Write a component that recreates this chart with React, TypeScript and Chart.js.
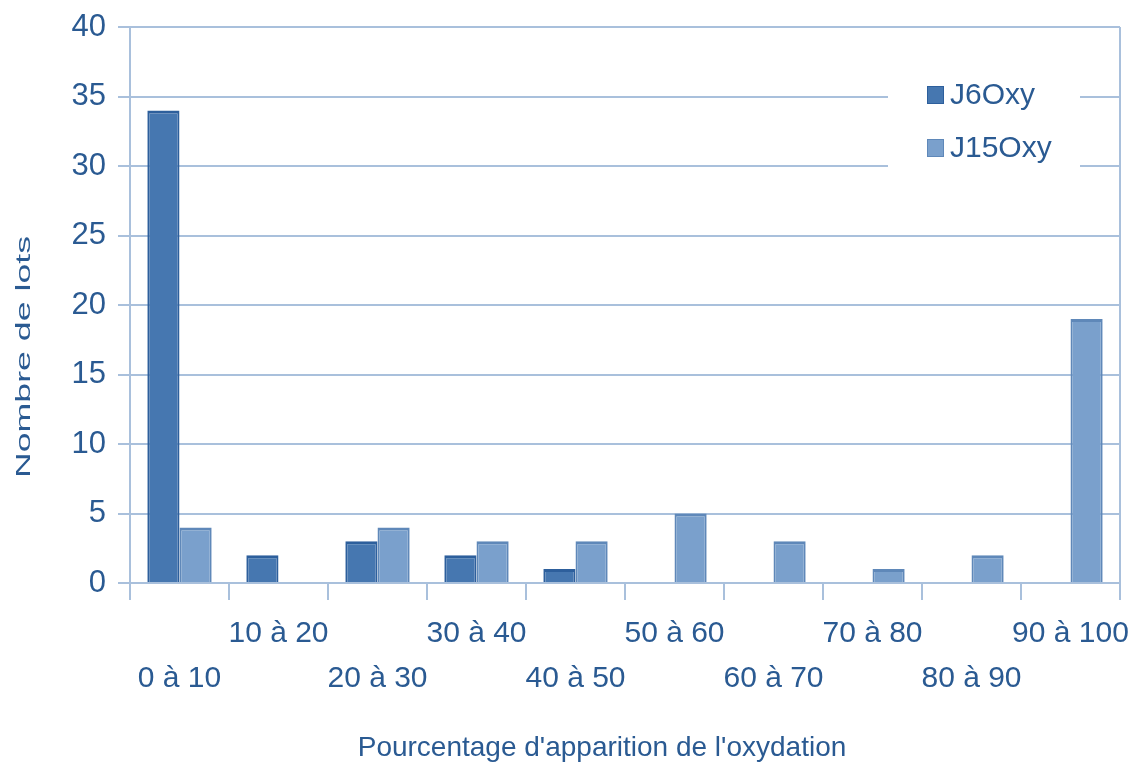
import React, { useEffect, useRef } from "react";
import { Chart, registerables } from "chart.js";

Chart.register(...registerables);

const categories = ["0 à 10", "10 à 20", "20 à 30", "30 à 40", "40 à 50", "50 à 60", "60 à 70", "70 à 80", "80 à 90", "90 à 100"];
const j6Oxy = [34, 2, 3, 2, 1, 0, 0, 0, 0, 0];
const j15Oxy = [4, 0, 4, 3, 3, 5, 3, 1, 2, 19];
const seriesNames = ["J6Oxy", "J15Oxy"];
const yTicks = [0, 5, 10, 15, 20, 25, 30, 35, 40];
const xTitle = "Pourcentage d'apparition de l'oxydation";
const yTitle = "Nombre de lots";

const TEXT = "#2a5a92";
const GRID = "#a9c0dc";
const C1 = "#4677b0";
const C1B = "#2d5f9c";
const C2 = "#7aa0cc";
const C2B = "#5f88b9";
const FONT = "'Liberation Sans', Arial, sans-serif";

export default function App() {
  const ref = useRef<HTMLCanvasElement | null>(null);
  useEffect(() => {
    if (!ref.current) return;
    const overlayPlugin = {
      id: "overlay",
      afterDraw(chart: any) {
        const ctx = chart.ctx;
        const a = chart.chartArea;
        ctx.save();
        // legend
        ctx.fillStyle = "#ffffff";
        ctx.fillRect(888, 66, 192, 118);
        const items = [
          { name: seriesNames[0], fill: C1, border: C1B, y: 95 },
          { name: seriesNames[1], fill: C2, border: C2B, y: 148 },
        ];
        ctx.font = `30px ${FONT}`;
        ctx.textBaseline = "middle";
        ctx.textAlign = "left";
        for (const it of items) {
          ctx.fillStyle = it.fill;
          ctx.fillRect(927, it.y - 9, 17, 18);
          ctx.strokeStyle = it.border;
          ctx.lineWidth = 1;
          ctx.strokeRect(927.5, it.y - 8.5, 16, 17);
          ctx.fillStyle = TEXT;
          ctx.fillText(it.name, 950, it.y + 1);
        }
        // right border line
        ctx.strokeStyle = GRID;
        ctx.lineWidth = 2;
        ctx.beginPath();
        ctx.moveTo(a.right, a.top);
        ctx.lineTo(a.right, a.bottom + 17);
        ctx.stroke();
        // x title
        ctx.fillStyle = TEXT;
        ctx.textAlign = "center";
        ctx.textBaseline = "middle";
        ctx.font = `28px ${FONT}`;
        ctx.fillText(xTitle, 602, 748);
        // y title (stretched along its length like the reference)
        ctx.translate(24, 357);
        ctx.rotate(-Math.PI / 2);
        ctx.scale(1.7, 1);
        ctx.font = `21px ${FONT}`;
        ctx.fillText(yTitle, 0, 0);
        ctx.restore();
      },
    };
    const chart = new Chart(ref.current, {
      type: "bar",
      data: {
        labels: categories,
        datasets: [
          {
            label: seriesNames[0],
            data: j6Oxy,
            backgroundColor: C1,
            borderColor: C1B,
            borderWidth: { top: 3, left: 2, right: 2, bottom: 0 },
            borderSkipped: "bottom",
          },
          {
            label: seriesNames[1],
            data: j15Oxy,
            backgroundColor: C2,
            borderColor: C2B,
            borderWidth: { top: 3, left: 2, right: 2, bottom: 0 },
            borderSkipped: "bottom",
          },
        ],
      },
      options: {
        animation: false,
        responsive: false,
        maintainAspectRatio: false,
        layout: { padding: { top: 27, right: 12, left: 0, bottom: 0 } },
        datasets: { bar: { categoryPercentage: 0.65, barPercentage: 1.0 } },
        plugins: { legend: { display: false }, tooltip: { enabled: false } },
        scales: {
          x: {
            offset: true,
            grid: {
              offset: true,
              drawOnChartArea: false,
              drawTicks: true,
              tickLength: 17,
              color: GRID,
              lineWidth: 2,
            },
            border: { display: true, color: GRID, width: 2 },
            ticks: {
              color: TEXT,
              font: { family: FONT, size: 30, lineHeight: 1.5 },
              padding: 11,
              maxRotation: 0,
              autoSkip: false,
              callback: (_v: any, i: number) => (i % 2 === 0 ? ["", categories[i]] : [categories[i], ""]),
            },
            title: { display: false },
            afterFit: (s: any) => {
              s.height = 770 - 583;
              s.paddingLeft = 0;
              s.paddingRight = 0;
            },
          },
          y: {
            min: 0,
            max: 40,
            afterBuildTicks: (s: any) => {
              s.ticks = yTicks.map((v) => ({ value: v }));
            },
            grid: {
              color: GRID,
              lineWidth: 2,
              tickLength: 12,
            },
            border: { display: true, color: GRID, width: 2 },
            ticks: {
              color: TEXT,
              font: { family: FONT, size: 31 },
              padding: 12,
            },
            title: { display: false },
            afterFit: (s: any) => {
              s.width = 130;
              s.paddingTop = 0;
              s.paddingBottom = 0;
            },
          },
        },
      },
      plugins: [overlayPlugin],
    });
    return () => chart.destroy();
  }, []);
  return (
    <div style={{ position: "fixed", left: 0, top: 0, width: 1132, height: 770, background: "#fff" }}>
      <canvas ref={ref} width={1132} height={770} style={{ width: 1132, height: 770 }} />
    </div>
  );
}
